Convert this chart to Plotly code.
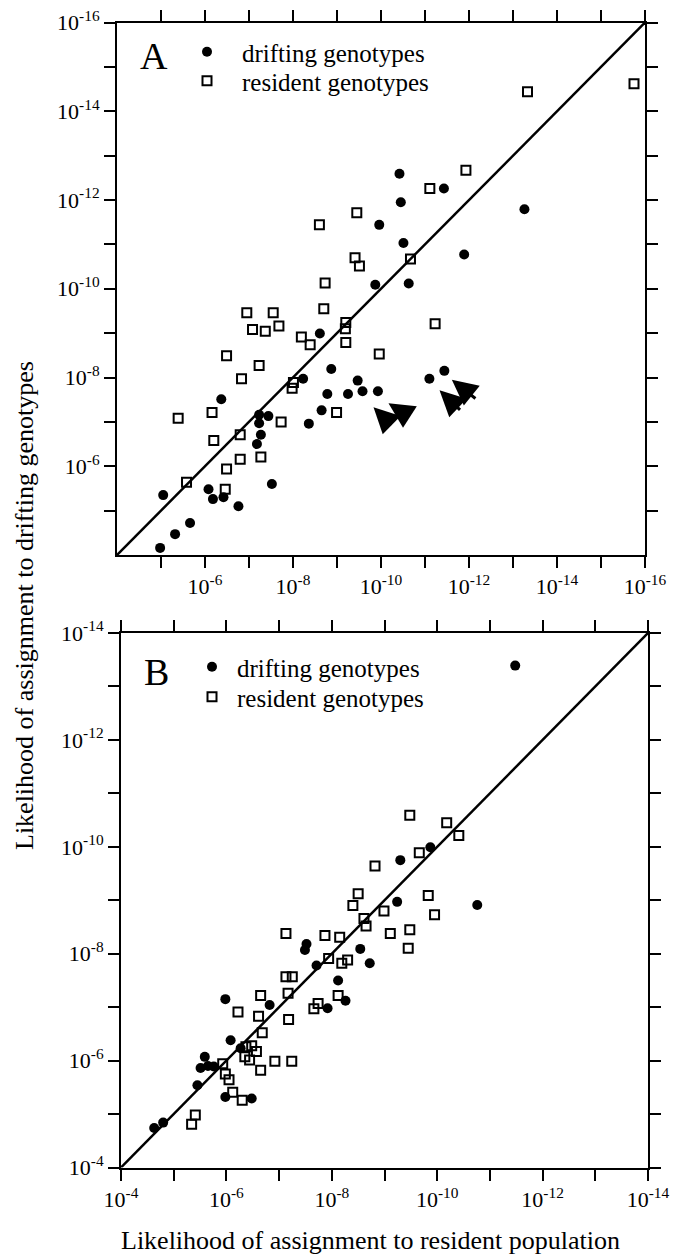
import plotly.graph_objects as go

# ---- Data: values are -log10(likelihood), i.e. 6.3 means 10^-6.3 ----
# Panel A
A_drift_x = [10.42, 11.43, 10.45, 9.96, 10.51, 11.89, 13.26, 9.87, 10.63, 8.61,
             8.87, 9.47, 8.23, 8.78, 9.25, 9.58, 9.93, 11.10, 11.44, 8.65,
             8.36, 6.37, 7.23, 7.44, 7.23, 7.27, 7.18, 7.52, 5.05, 6.08,
             6.18, 6.42, 6.76, 5.66, 5.32, 4.98]
A_drift_y = [12.59, 12.26, 11.95, 11.44, 11.03, 10.77, 11.79, 10.09, 10.12, 8.99,
             8.19, 7.93, 7.97, 7.63, 7.63, 7.69, 7.69, 7.97, 8.15, 7.26,
             6.96, 7.51, 7.16, 7.13, 6.97, 6.71, 6.50, 5.60, 5.35, 5.48,
             5.26, 5.30, 5.10, 4.72, 4.47, 4.16]
A_res_x = [15.75, 13.33, 11.93, 11.11, 10.67, 9.45, 9.41, 9.51, 8.60, 8.73,
           8.70, 6.95, 7.55, 7.68, 7.08, 7.37, 8.19, 8.39, 9.20, 9.19,
           9.20, 9.96, 11.23, 8.99, 6.49, 7.23, 6.83, 8.01, 7.98, 5.39,
           6.16, 7.73, 6.20, 6.80, 6.80, 7.27, 6.49, 5.58, 6.46]
A_res_y = [14.62, 14.44, 12.67, 12.26, 10.67, 11.71, 10.70, 10.51, 11.44, 10.13,
           9.55, 9.46, 9.46, 9.16, 9.08, 9.04, 8.91, 8.74, 9.24, 9.10,
           8.79, 8.53, 9.21, 7.21, 8.49, 8.27, 7.97, 7.89, 7.76, 7.08,
           7.21, 7.00, 6.58, 6.71, 6.16, 6.21, 5.94, 5.64, 5.48]
# arrows in panel A (tip and tail)
A_arrow_tip_x = [9.83, 10.17, 11.33, 11.61]
A_arrow_tip_y = [7.33, 7.42, 7.71, 7.95]
A_arrow_tail_x = [10.27, 10.64, 11.83, 12.18]
A_arrow_tail_y = [6.90, 7.12, 7.24, 7.50]

# Panel B
B_drift_x = [11.48, 9.87, 9.30, 9.24, 10.76, 8.54, 8.72, 7.52, 7.49, 7.71,
             8.12, 8.26, 7.92, 6.82, 5.98, 6.08, 6.27, 5.59, 5.51, 5.65,
             5.76, 5.45, 5.98, 6.48, 4.80, 4.63]
B_drift_y = [13.39, 9.99, 9.75, 8.97, 8.91, 8.09, 7.82, 8.18, 8.07, 7.78,
             7.50, 7.12, 6.98, 7.04, 7.15, 6.38, 6.23, 6.07, 5.86, 5.90,
             5.89, 5.54, 5.32, 5.29, 4.84, 4.74]
B_res_x = [9.48, 10.18, 10.41, 9.66, 8.82, 9.83, 9.95, 8.50, 8.40, 8.99,
           8.61, 8.65, 7.13, 7.87, 8.15, 9.11, 9.48, 9.45, 7.94, 8.19,
           8.30, 7.13, 7.25, 7.17, 6.65, 8.12, 7.74, 7.66, 6.22, 6.61,
           7.18, 6.68, 6.37, 6.48, 6.57, 6.35, 6.44, 6.92, 7.24, 5.93,
           6.65, 5.98, 6.05, 6.12, 6.30, 5.41, 5.34]
B_res_y = [10.59, 10.45, 10.21, 9.89, 9.64, 9.09, 8.73, 9.12, 8.90, 8.80,
           8.66, 8.52, 8.38, 8.34, 8.31, 8.38, 8.45, 8.10, 7.91, 7.82,
           7.88, 7.57, 7.57, 7.26, 7.22, 7.22, 7.07, 6.97, 6.91, 6.83,
           6.77, 6.52, 6.26, 6.28, 6.17, 6.07, 6.01, 5.99, 5.99, 5.94,
           5.82, 5.75, 5.64, 5.41, 5.26, 4.98, 4.81]

A_range = [4, 16]
B_range = [4, 14]
A_labels = [6, 8, 10, 12, 14, 16]
A_minor = [5, 7, 9, 11, 13, 15]
B_labels = [4, 6, 8, 10, 12, 14]
B_minor = [5, 7, 9, 11, 13]

series_names = ["drifting genotypes", "resident genotypes"]

# ---- styling ----
W, H = 675, 1257
FONT = "Liberation Serif"


def lik(vals):
    return [10 ** (-v) for v in vals]


def pxx(p):
    return p / W


def pxy(p):
    return 1 - p / H


def axis(domain, rng, labels, minor, anchor):
    return dict(
        type="log", range=[-rng[0], -rng[1]], domain=domain, anchor=anchor,
        showline=True, linecolor="black", linewidth=2, mirror="ticks",
        ticks="outside", ticklen=11, tickwidth=1.6, tickcolor="black",
        tickvals=[10 ** (-k) for k in labels],
        ticktext=["10<sup>-%d</sup>" % k for k in labels],
        minor=dict(tickvals=[10 ** (-k) for k in minor], ticks="outside",
                   ticklen=11, tickwidth=1.6, tickcolor="black", showgrid=False),
        tickfont=dict(family=FONT, size=22, color="black"),
        showgrid=False, zeroline=False, automargin=False, fixedrange=True,
    )


fig = go.Figure()

circle = dict(symbol="circle", size=10, color="black")
square = dict(symbol="square-open", size=9, color="black", line=dict(width=2, color="black"))

# Panel A
fig.add_trace(go.Scatter(x=lik(A_range), y=lik(A_range), mode="lines",
                         line=dict(color="black", width=2.5), showlegend=False,
                         xaxis="x", yaxis="y", hoverinfo="skip"))
fig.add_trace(go.Scatter(x=lik(A_drift_x), y=lik(A_drift_y), mode="markers",
                         marker=circle, name=series_names[0], legend="legend",
                         xaxis="x", yaxis="y"))
fig.add_trace(go.Scatter(x=lik(A_res_x), y=lik(A_res_y), mode="markers",
                         marker=square, name=series_names[1], legend="legend3",
                         xaxis="x", yaxis="y"))
# Panel B
fig.add_trace(go.Scatter(x=lik(B_range), y=lik(B_range), mode="lines",
                         line=dict(color="black", width=2.5), showlegend=False,
                         xaxis="x2", yaxis="y2", hoverinfo="skip"))
fig.add_trace(go.Scatter(x=lik(B_drift_x), y=lik(B_drift_y), mode="markers",
                         marker=circle, name=series_names[0], legend="legend2",
                         xaxis="x2", yaxis="y2"))
fig.add_trace(go.Scatter(x=lik(B_res_x), y=lik(B_res_y), mode="markers",
                         marker=square, name=series_names[1], legend="legend4",
                         xaxis="x2", yaxis="y2"))

annotations = []
for tx, ty, sx, sy in zip(A_arrow_tip_x, A_arrow_tip_y, A_arrow_tail_x, A_arrow_tail_y):
    annotations.append(dict(x=-tx, y=-ty, ax=-sx, ay=-sy, xref="x", yref="y",
                            axref="x", ayref="y", text="", showarrow=True,
                            arrowhead=2, arrowsize=1.7, arrowwidth=3,
                            arrowcolor="black", standoff=0))

annotations += [
    dict(text="A", x=pxx(154), y=pxy(56), xref="paper", yref="paper",
         xanchor="center", yanchor="middle", showarrow=False,
         font=dict(family=FONT, size=38, color="black")),
    dict(text="B", x=pxx(156), y=pxy(672), xref="paper", yref="paper",
         xanchor="center", yanchor="middle", showarrow=False,
         font=dict(family=FONT, size=38, color="black")),
    dict(text="Likelihood of assignment to drifting genotypes", textangle=-90,
         x=pxx(24), y=pxy(606), xref="paper", yref="paper",
         xanchor="center", yanchor="middle", showarrow=False,
         font=dict(family=FONT, size=26, color="black")),
    dict(text="Likelihood of assignment to resident population",
         x=pxx(371), y=pxy(1240), xref="paper", yref="paper",
         xanchor="center", yanchor="middle", showarrow=False,
         font=dict(family=FONT, size=26, color="black")),
]


def leg(x, y, iw):
    return dict(x=pxx(x), y=pxy(y), xanchor="left", yanchor="top",
                bgcolor="rgba(0,0,0,0)", borderwidth=0, itemwidth=iw,
                font=dict(family=FONT, size=25, color="black"))


fig.update_layout(
    width=W, height=H, template="none",
    margin=dict(l=0, r=0, t=0, b=0, autoexpand=False),
    paper_bgcolor="white", plot_bgcolor="white",
    xaxis=axis([pxx(117), pxx(645)], A_range, A_labels, A_minor, "y"),
    yaxis=axis([pxy(555), pxy(22.5)], A_range, A_labels, A_minor, "x"),
    xaxis2=axis([pxx(121), pxx(648)], B_range, B_labels, B_minor, "y2"),
    yaxis2=axis([pxy(1167.5), pxy(633)], B_range, B_labels, B_minor, "x2"),
    legend=leg(172, 29, 60),
    legend3=leg(172, 58, 60),
    legend2=leg(187, 644, 40),
    legend4=leg(187, 674, 40),
    annotations=annotations,
    showlegend=True,
)

fig.write_html("out.html", post_script="document.body.style.margin='0px';",
               config={"displayModeBar": False})
